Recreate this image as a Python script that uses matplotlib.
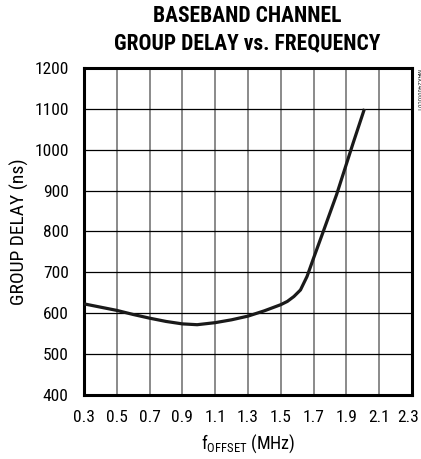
import matplotlib.pyplot as plt
from matplotlib.transforms import ScaledTranslation

# group delay curve read at offset frequencies
freq_mhz = [0.30, 0.40, 0.50, 0.60, 0.70, 0.80, 0.90, 0.99, 1.10, 1.20, 1.30, 1.40,
            1.50, 1.54, 1.58, 1.62, 1.66, 1.70, 1.75, 1.84, 1.90, 1.94, 2.01]
delay_ns = [623, 615, 607, 597, 588, 580, 574, 572, 577, 584, 593, 606,
            621, 629, 641, 657, 690, 735, 790, 890, 965, 1015, 1100]

xticks = [0.3, 0.5, 0.7, 0.9, 1.1, 1.3, 1.5, 1.7, 1.9, 2.1, 2.3]
yticks = [400, 500, 600, 700, 800, 900, 1000, 1100, 1200]

fonts = ['Roboto Condensed', 'Archivo Narrow', 'Liberation Sans', 'DejaVu Sans']
plt.rcParams['font.family'] = fonts
plt.rcParams['mathtext.fontset'] = 'custom'
plt.rcParams['mathtext.rm'] = 'Roboto Condensed'

fig = plt.figure(figsize=(4.21, 4.59), dpi=100)
ax = fig.add_axes([0.1995, 0.1394, 0.7791, 0.7125])

ax.plot(freq_mhz, delay_ns, color='#1a1a1a', lw=2.3, solid_capstyle='butt',
        solid_joinstyle='round', zorder=3)

ax.set_xlim(0.3, 2.3)
ax.set_ylim(400, 1200)
ax.set_xticks(xticks)
ax.set_xticklabels([f'{v:.1f}' for v in xticks])
ax.set_yticks(yticks)
for x in xticks[1:-1]:
    ax.axvline(x, color='#777777', lw=1.2, zorder=1)
for y in yticks[1:-1]:
    ax.axhline(y, color='black', lw=0.9, zorder=1)

ax.tick_params(length=0, labelsize=12.5, pad=11)
for s in ax.spines.values():
    s.set_linewidth(2.2)

# nudge the last x label so it stays inside the figure
last = ax.get_xticklabels()[-1]
last.set_transform(last.get_transform() + ScaledTranslation(-0.04, 0, fig.dpi_scale_trans))

ax.set_ylabel('GROUP DELAY (ns)', fontsize=14, labelpad=4)
ax.set_xlabel(r'f$_{\mathrm{OFFSET}}$ (MHz)', fontsize=13, labelpad=5)

fig.text(0.586, 0.966, 'BASEBAND CHANNEL', ha='center', va='center',
         fontsize=15.5, fontweight='heavy')
fig.text(0.586, 0.905, 'GROUP DELAY vs. FREQUENCY', ha='center', va='center',
         fontsize=15.5, fontweight='heavy')
fig.text(0.994, 0.85, 'MAX2400toc01', rotation=-90, ha='center', va='top',
         fontsize=5, color='#333333')

fig.savefig('out.png', dpi=100)
